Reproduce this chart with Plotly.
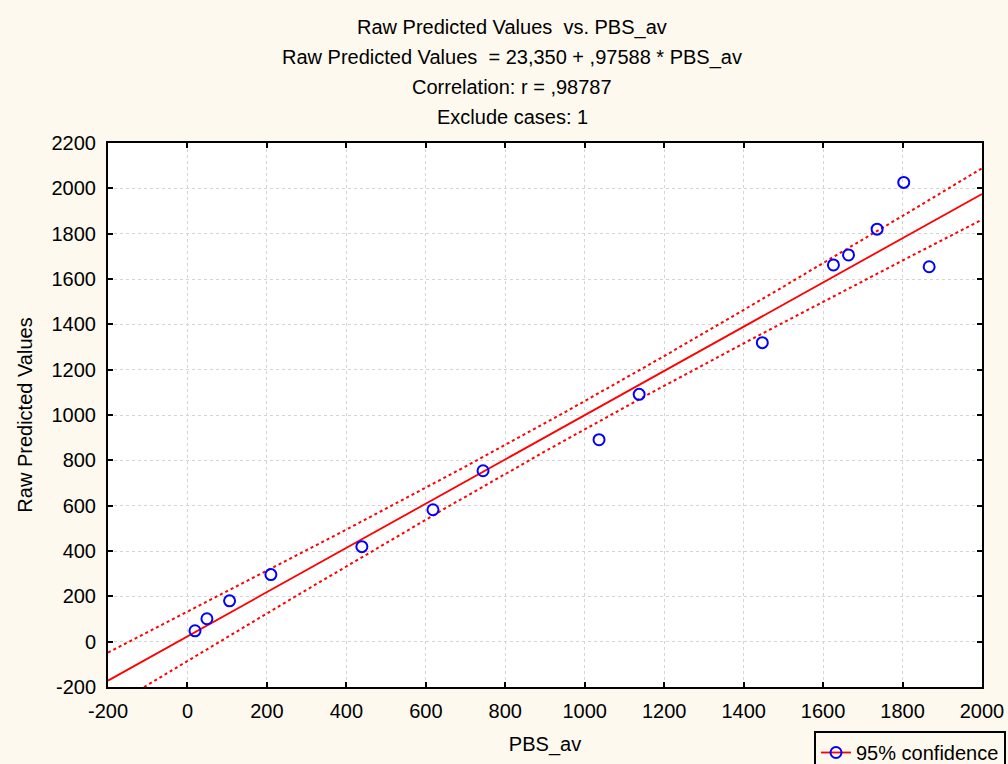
import numpy as np
import plotly.graph_objects as go

# ---- data ----
pbs_av = [19, 49, 106, 210, 439, 618, 744, 1036, 1137, 1447, 1626, 1664, 1736, 1803, 1867]
raw_predicted = [48, 101, 180, 296, 419, 582, 754, 891, 1091, 1319, 1662, 1706, 1820, 2026, 1654]

intercept = 23.350
slope = 0.97588
t_crit = 2.160  # Student t, 0.975, n-2 = 13 df

title_lines = [
    "Raw Predicted Values  vs. PBS_av",
    "Raw Predicted Values  = 23,350 + ,97588 * PBS_av",
    "Correlation: r = ,98787",
    "Exclude cases: 1",
]
x_ticks = [-200, 0, 200, 400, 600, 800, 1000, 1200, 1400, 1600, 1800, 2000]
x_tick_text = ["-200", "0", "200", "400", "600", "800", "1000", "1200", "1400", "1600", "1800", "2000"]
y_ticks = [-200, 0, 200, 400, 600, 800, 1000, 1200, 1400, 1600, 1800, 2000, 2200]
y_tick_text = ["-200", "0", "200", "400", "600", "800", "1000", "1200", "1400", "1600", "1800", "2000", "2200"]
x_range = [-200, 2000]
y_range = [-200, 2200]

# ---- regression line and 95% confidence band ----
x = np.array(pbs_av, float)
y = np.array(raw_predicted, float)
n = len(x)
resid = y - (intercept + slope * x)
s = np.sqrt(np.sum(resid ** 2) / (n - 2))
sxx = np.sum((x - x.mean()) ** 2)
xs = np.linspace(x_range[0], x_range[1], 200)
fit = intercept + slope * xs
hw = t_crit * s * np.sqrt(1.0 / n + (xs - x.mean()) ** 2 / sxx)

FONT = "Liberation Sans, Arial, sans-serif"
BG = "#fdf9ee"

fig = go.Figure()
fig.add_trace(go.Scatter(x=xs, y=fit + hw, mode="lines", showlegend=False,
                         line=dict(color="#ff0000", width=2, dash="dot"), hoverinfo="skip"))
fig.add_trace(go.Scatter(x=xs, y=fit - hw, mode="lines", showlegend=False,
                         line=dict(color="#ff0000", width=2, dash="dot"), hoverinfo="skip"))
fig.add_trace(go.Scatter(x=xs, y=fit, mode="lines", showlegend=False,
                         line=dict(color="#ff0000", width=1.8)))
fig.add_trace(go.Scatter(x=pbs_av, y=raw_predicted, mode="markers", showlegend=False,
                         marker=dict(symbol="circle-open", size=11, color="#0000ff",
                                     line=dict(width=2, color="#0000ff"))))
fig.add_trace(go.Scatter(x=[None], y=[None], mode="lines+markers", name="95% confidence",
                         line=dict(color="#ff0000", width=1.8),
                         marker=dict(symbol="circle-open", size=11, color="#0000ff",
                                     line=dict(width=2, color="#0000ff"))))

# title lines
line_y = [28, 57.5, 87.5, 117]
for txt, py in zip(title_lines, line_y):
    fig.add_annotation(text=txt, xref="paper", yref="paper",
                       x=(512 - 108) / 874,
                       y=(687 - py) / 544, showarrow=False,
                       xanchor="center", yanchor="middle",
                       font=dict(family=FONT, size=20, color="#000000"))

axis_common = dict(
    showline=True, linecolor="#000000", linewidth=2, mirror="ticks",
    ticks="inside", ticklen=5, tickwidth=2, tickcolor="#000000",
    showgrid=True, gridcolor="#d4d4d4", griddash="dot", gridwidth=1,
    zeroline=False, automargin=False,
    tickfont=dict(family=FONT, size=20, color="#000000"),
)

fig.update_layout(
    width=1008, height=764,
    paper_bgcolor=BG, plot_bgcolor="#ffffff",
    margin=dict(l=108, r=26, t=143, b=77, autoexpand=False),
    font=dict(family=FONT, size=20, color="#000000"),
    xaxis=dict(range=x_range, tickvals=x_ticks, ticktext=x_tick_text, ticklabelstandoff=5,
               title=dict(text="PBS_av", font=dict(family=FONT, size=20), standoff=16),
               **axis_common),
    yaxis=dict(range=y_range, tickvals=y_ticks, ticktext=y_tick_text, ticklabelstandoff=6,
               title=dict(text="Raw Predicted Values", font=dict(family=FONT, size=20), standoff=14),
               **axis_common),
    showlegend=True,
    legend=dict(xref="container", yref="container",
                x=1006 / 1008, y=(764 - 731) / 764, xanchor="right", yanchor="top",
                bgcolor=BG, bordercolor="#000000", borderwidth=2,
                font=dict(family=FONT, size=20), itemwidth=30,
                tracegroupgap=0),
)

fig.write_html("out.html")
